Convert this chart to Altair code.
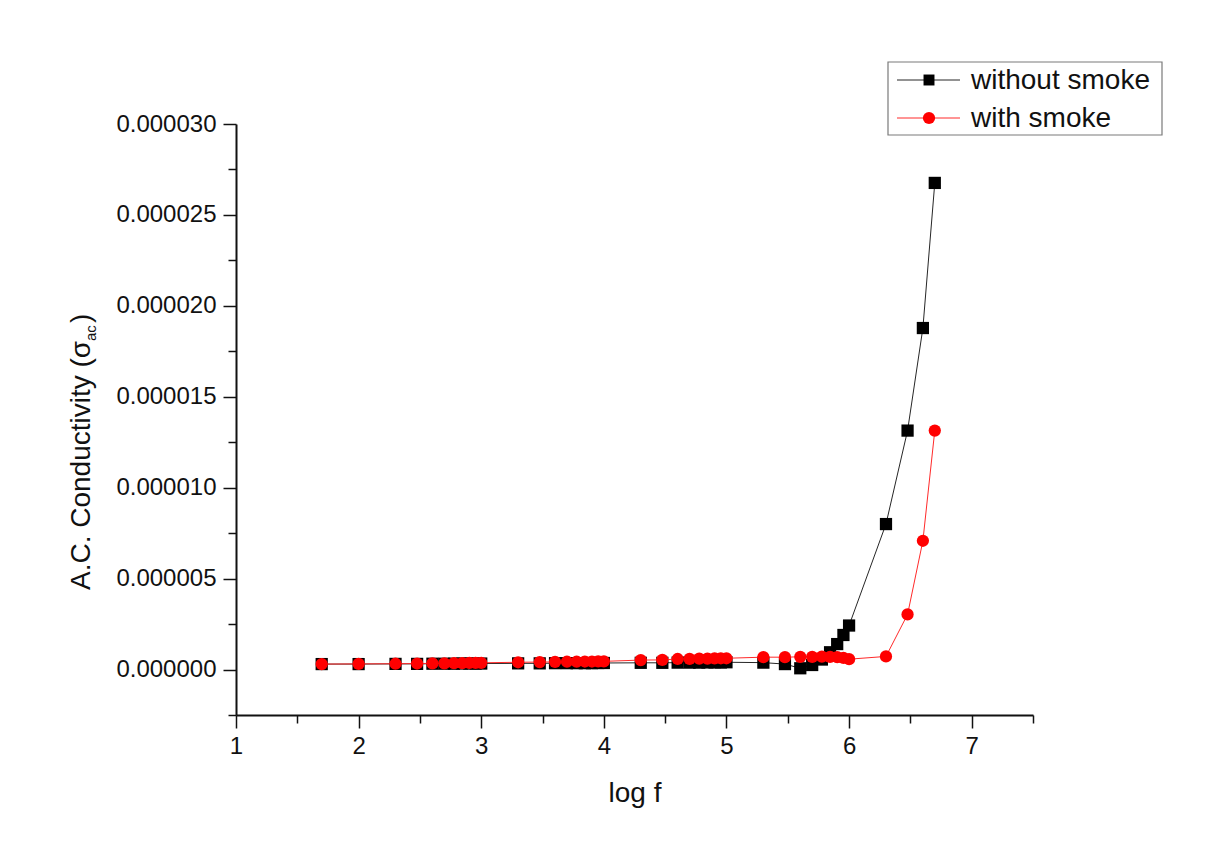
import altair as alt
import pandas as pd

# ---------------- data ----------------
log_f = [1.699, 2.0, 2.301, 2.477, 2.602, 2.699, 2.778, 2.845, 2.903, 2.954,
         3.0, 3.301, 3.477, 3.602, 3.699, 3.778, 3.845, 3.903, 3.954,
         4.0, 4.301, 4.477, 4.602, 4.699, 4.778, 4.845, 4.903, 4.954,
         5.0, 5.301, 5.477, 5.602, 5.699, 5.778, 5.845, 5.903, 5.954,
         6.0, 6.301, 6.477, 6.602, 6.699]

sigma_without = [3.0e-7, 3.0e-7, 3.1e-7, 3.1e-7, 3.2e-7, 3.2e-7, 3.2e-7, 3.3e-7, 3.3e-7, 3.3e-7,
                 3.3e-7, 3.4e-7, 3.4e-7, 3.5e-7, 3.5e-7, 3.5e-7, 3.5e-7, 3.5e-7, 3.6e-7,
                 3.6e-7, 3.7e-7, 3.7e-7, 3.8e-7, 3.8e-7, 3.8e-7, 3.9e-7, 3.9e-7, 3.9e-7,
                 4.0e-7, 3.8e-7, 3.0e-7, 0.7e-7, 2.5e-7, 5.5e-7, 9.5e-7, 1.40e-6, 1.90e-6,
                 2.42e-6, 8.0e-6, 1.314e-5, 1.878e-5, 2.676e-5]

sigma_with = [3.0e-7, 3.1e-7, 3.2e-7, 3.3e-7, 3.4e-7, 3.4e-7, 3.5e-7, 3.5e-7, 3.6e-7, 3.6e-7,
              3.7e-7, 4.0e-7, 4.1e-7, 4.2e-7, 4.3e-7, 4.3e-7, 4.4e-7, 4.4e-7, 4.5e-7,
              4.5e-7, 5.2e-7, 5.3e-7, 5.8e-7, 5.9e-7, 6.0e-7, 6.0e-7, 6.1e-7, 6.2e-7,
              6.2e-7, 6.8e-7, 6.8e-7, 7.0e-7, 7.0e-7, 7.1e-7, 7.0e-7, 6.8e-7, 6.4e-7,
              5.7e-7, 7.2e-7, 3.03e-6, 7.08e-6, 1.314e-5]

series_names = ["without smoke", "with smoke"]

x_major = [1, 2, 3, 4, 5, 6, 7]
x_minor = [1.5, 2.5, 3.5, 4.5, 5.5, 6.5, 7.5]
y_major = [0.0, 5e-6, 1e-5, 1.5e-5, 2e-5, 2.5e-5, 3e-5]
y_minor = [-2.5e-6, 2.5e-6, 7.5e-6, 1.25e-5, 1.75e-5, 2.25e-5, 2.75e-5]

x_domain = [1, 7.5]
y_domain = [-2.5e-6, 3e-5]

# ---------------- styling ----------------
FONT = "Liberation Sans"
W, H = 797, 591
AXC = "#111111"

df_a = pd.DataFrame({"x": log_f, "y": sigma_without})
df_b = pd.DataFrame({"x": log_f, "y": sigma_with})
one = alt.Data(values=[{"k": 0}])

xs = alt.Scale(domain=x_domain, nice=False, zero=False)
ys = alt.Scale(domain=y_domain, nice=False, zero=False)

x_major_axis = alt.Axis(values=x_major, orient="bottom", tickSize=13, tickWidth=1.5, tickColor=AXC,
                        domainColor=AXC, domainWidth=2, labelFont=FONT, labelFontSize=24,
                        labelColor=AXC, labelPadding=6, labelFlush=False, format="d", grid=False,
                        title="log f", titleFont=FONT, titleFontSize=28, titleFontWeight="normal",
                        titleColor=AXC, titlePadding=21)
x_minor_axis = alt.Axis(values=x_minor, orient="bottom", tickSize=8, tickWidth=1.5, tickColor=AXC,
                        domain=False, labels=False, grid=False, title="")
y_major_axis = alt.Axis(values=y_major, orient="left", tickSize=13, tickWidth=1.5, tickColor=AXC,
                        domainColor=AXC, domainWidth=2, labelFont=FONT, labelFontSize=24,
                        labelColor=AXC, labelPadding=7, labelFlush=False, format=".6f",
                        grid=False, title="")
y_minor_axis = alt.Axis(values=y_minor, orient="left", tickSize=8, tickWidth=1.5, tickColor=AXC,
                        domain=False, labels=False, grid=False, title="")

# minor-tick carrier layer (invisible)
minor = alt.Chart(df_a).mark_point(opacity=0).encode(
    x=alt.X("x:Q", scale=xs, axis=x_minor_axis),
    y=alt.Y("y:Q", scale=ys, axis=y_minor_axis))

black_line = alt.Chart(df_a).mark_line(color="#262626", strokeWidth=1).encode(
    x=alt.X("x:Q", scale=xs, axis=x_major_axis),
    y=alt.Y("y:Q", scale=ys, axis=y_major_axis))
black_pts = alt.Chart(df_a).mark_point(shape="square", filled=True, color="#000000",
                                       size=150, opacity=1).encode(
    x=alt.X("x:Q", scale=xs, axis=None),
    y=alt.Y("y:Q", scale=ys, axis=None))
red_line = alt.Chart(df_b).mark_line(color="#ff2a2a", strokeWidth=1).encode(
    x=alt.X("x:Q", scale=xs, axis=None),
    y=alt.Y("y:Q", scale=ys, axis=None))
red_pts = alt.Chart(df_b).mark_point(shape="circle", filled=True, color="#ff0000",
                                     size=150, opacity=1).encode(
    x=alt.X("x:Q", scale=xs, axis=None),
    y=alt.Y("y:Q", scale=ys, axis=None))

# ---------------- legend (manual, Origin style) ----------------
leg_box = alt.Chart(one).mark_rect(fill="white", stroke="#7a7a7a", strokeWidth=1.2).encode(
    x=alt.value(652), x2=alt.value(926), y=alt.value(-62), y2=alt.value(11))
leg_l1 = alt.Chart(one).mark_rule(color="#262626", strokeWidth=1).encode(
    x=alt.value(661), x2=alt.value(724), y=alt.value(-44))
leg_p1 = alt.Chart(one).mark_point(shape="square", filled=True, color="#000000", size=120,
                                   opacity=1).encode(x=alt.value(693), y=alt.value(-44))
leg_t1 = alt.Chart(one).mark_text(text=series_names[0], font=FONT, fontSize=28, align="left",
                                  baseline="middle", color="#111111").encode(
    x=alt.value(735), y=alt.value(-43))
leg_l2 = alt.Chart(one).mark_rule(color="#ff2a2a", strokeWidth=1).encode(
    x=alt.value(661), x2=alt.value(724), y=alt.value(-6))
leg_p2 = alt.Chart(one).mark_point(shape="circle", filled=True, color="#ff0000", size=150,
                                   opacity=1).encode(x=alt.value(693), y=alt.value(-6))
leg_t2 = alt.Chart(one).mark_text(text=series_names[1], font=FONT, fontSize=28, align="left",
                                  baseline="middle", color="#111111").encode(
    x=alt.value(735), y=alt.value(-5))

# ---------------- y title with subscript ----------------
yt_main = alt.Chart(one).mark_text(text="A.C. Conductivity (\u03c3", font=FONT, fontSize=28,
                                   angle=270, align="left", baseline="middle",
                                   color="#111111").encode(x=alt.value(-154), y=alt.value(466))
yt_sub = alt.Chart(one).mark_text(text="ac", font=FONT, fontSize=15, angle=270, align="left",
                                  baseline="middle", color="#111111").encode(
    x=alt.value(-145), y=alt.value(217))
yt_end = alt.Chart(one).mark_text(text=" )", font=FONT, fontSize=28, angle=270, align="left",
                                  baseline="middle", color="#111111").encode(
    x=alt.value(-154), y=alt.value(199))

chart = alt.layer(
    minor, black_line, black_pts, red_line, red_pts,
    leg_box, leg_l1, leg_p1, leg_t1, leg_l2, leg_p2, leg_t2,
    yt_main, yt_sub, yt_end
).resolve_axis(x="independent", y="independent").properties(
    width=W, height=H,
    padding={"left": 228, "top": 116, "right": 180, "bottom": 135},
    autosize=alt.AutoSizeParams(type="none"),
).configure(background="white").configure_view(strokeWidth=0)

chart.save("out.html", embed_options={"renderer": "svg", "actions": False})
